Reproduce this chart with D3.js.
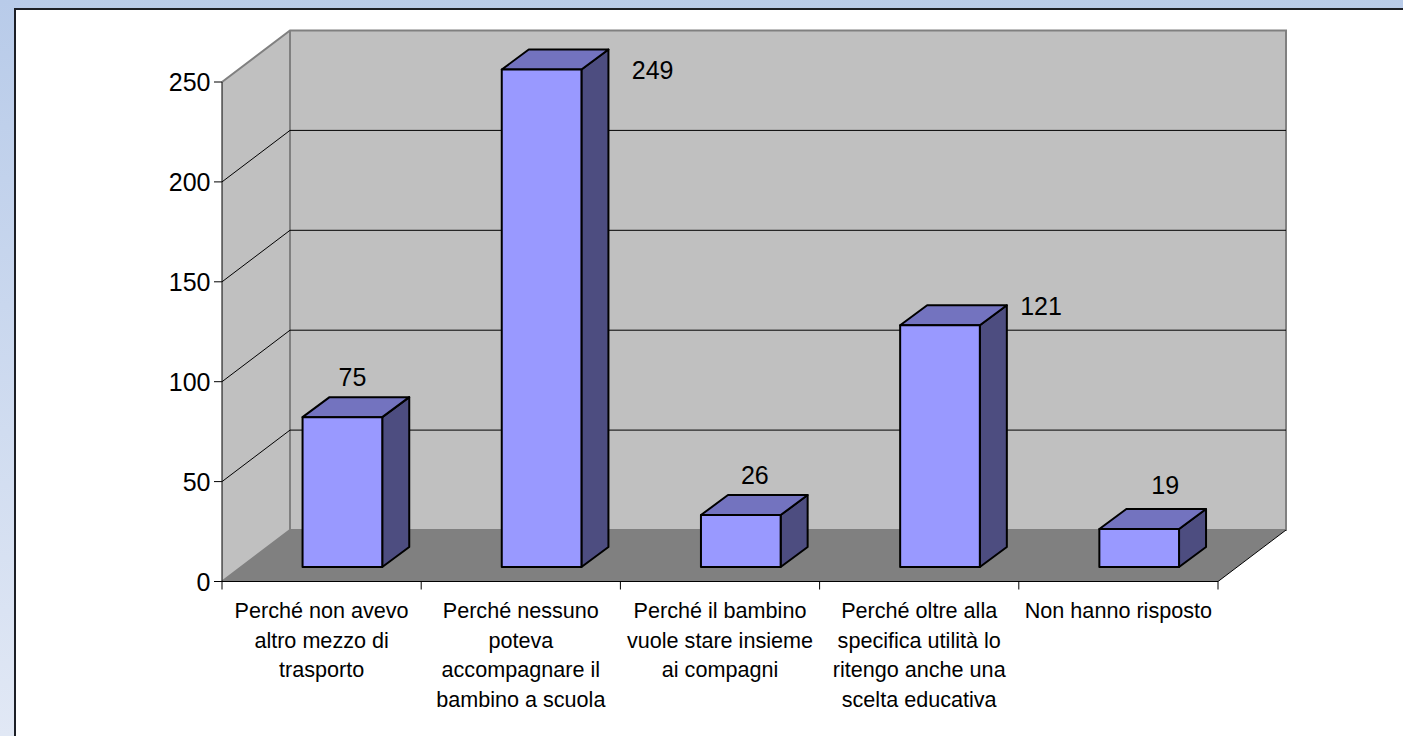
<!DOCTYPE html>
<html>
<head>
<meta charset="utf-8">
<script src="https://cdn.jsdelivr.net/npm/d3@7"></script>
<style>
html,body{margin:0;padding:0;background:#fff;overflow:hidden}
text{font-family:"Liberation Sans",Arial,sans-serif;fill:#000}
</style>
</head>
<body>
<svg id="c" width="1403" height="736"></svg>
<script>
const categories = [
  ["Perché non avevo","altro mezzo di","trasporto"],
  ["Perché nessuno","poteva","accompagnare il","bambino a scuola"],
  ["Perché il bambino","vuole stare insieme","ai compagni"],
  ["Perché oltre alla","specifica utilità lo","ritengo anche una","scelta educativa"],
  ["Non hanno risposto"]
];
const values = [75, 249, 26, 121, 19];
const yTicks = [0, 50, 100, 150, 200, 250];

// layout
const X0 = 222, X1 = 1218, Y0 = 581.5, Y250 = 82;
const DX = 68, DY = -51.5;         // chart depth
const barDX = 27, barDY = -20;     // bar depth
const barShiftX = 19, barShiftY = -14.5;
const labelOffsets = [[10,-40],[111,1],[14,-40],[101,-19],[26,-44]];

const svg = d3.select("#c");
const defs = svg.append("defs");
const g = defs.append("linearGradient").attr("id","bg").attr("x1",0).attr("y1",0).attr("x2",0).attr("y2",1);
g.append("stop").attr("offset",0).attr("stop-color","#b8cbe9");
g.append("stop").attr("offset",1).attr("stop-color","#e1e8f5");

svg.append("rect").attr("width",1403).attr("height",736).attr("fill","url(#bg)");
svg.append("rect").attr("x",15).attr("y",9).attr("width",1388).attr("height",727).attr("fill","#fff");
svg.append("path").attr("d","M15,736V9H1403").attr("fill","none").attr("stroke","#1c1f26").attr("stroke-width",2);

const x = d3.scaleBand().domain(d3.range(categories.length)).range([X0,X1]);
const y = d3.scaleLinear().domain([0,250]).range([Y0,Y250]);
const poly = pts => "M"+pts.map(p=>p.join(",")).join("L")+"Z";
const line = d3.line();

// walls and floor
const yTop = y(250);
svg.append("path").attr("d",poly([[X0,y(0)],[X0,yTop],[X0+DX,yTop+DY],[X0+DX,y(0)+DY]])).attr("fill","#c0c0c0");
svg.append("path").attr("d",poly([[X0+DX,y(0)+DY],[X0+DX,yTop+DY],[X1+DX,yTop+DY],[X1+DX,y(0)+DY]])).attr("fill","#c0c0c0");
svg.append("path").attr("d",poly([[X0,y(0)],[X0+DX,y(0)+DY],[X1+DX,y(0)+DY],[X1,y(0)]])).attr("fill","#808080");

// grey frame
svg.append("path").attr("d",line([[X0,yTop],[X0+DX,yTop+DY],[X1+DX,yTop+DY],[X1+DX,y(0)+DY],[X0+DX,y(0)+DY],[X0,y(0)]]))
  .attr("fill","none").attr("stroke","#808080").attr("stroke-width",2);
svg.append("path").attr("d",line([[X0+DX,yTop+DY],[X0+DX,y(0)+DY]])).attr("fill","none").attr("stroke","#808080").attr("stroke-width",2);

// gridlines
yTicks.filter(t=>t>0 && t<250).forEach(t=>{
  svg.append("path").attr("d",line([[X0,y(t)],[X0+DX,y(t)+DY],[X1+DX,y(t)+DY]]))
    .attr("fill","none").attr("stroke","#000").attr("stroke-width",1);
});

// axes
const axisG = svg.append("g");
axisG.append("path").attr("d",line([[X0,yTop],[X0,y(0)],[X1,y(0)],[X1+DX,y(0)+DY]])).attr("fill","none").attr("stroke","#000").attr("stroke-width",1);
yTicks.forEach(t=>{
  axisG.append("line").attr("x1",X0-8).attr("x2",X0).attr("y1",y(t)).attr("y2",y(t)).attr("stroke","#000");
  axisG.append("text").attr("x",X0-11.5).attr("y",y(t)).attr("dy","0.36em").attr("text-anchor","end").attr("font-size",25).text(t);
});
d3.range(categories.length+1).forEach(i=>{
  const px = X0 + x.step()*i;
  axisG.append("line").attr("x1",px).attr("x2",px).attr("y1",y(0)).attr("y2",y(0)+8).attr("stroke","#000");
});

// category labels
categories.forEach((lines,i)=>{
  const t = svg.append("text").attr("text-anchor","middle").attr("font-size",21.6);
  lines.forEach((l,j)=>t.append("tspan").attr("x",x(i)+x.bandwidth()/2).attr("y",618+j*29.7).text(l));
});

// bars
const barW = x.bandwidth()*0.4;
values.forEach((v,i)=>{
  const cx = x(i)+x.bandwidth()/2 + barShiftX + 1.8;
  const l = cx-barW/2, r = cx+barW/2, b = y(0)+barShiftY, t = y(v)+barShiftY;
  const bar = svg.append("g").attr("stroke","#000").attr("stroke-width",2).attr("stroke-linejoin","round");
  bar.append("path").attr("d",poly([[r,t],[r+barDX,t+barDY],[r+barDX,b+barDY],[r,b]])).attr("fill","#4d4d80");
  bar.append("path").attr("d",poly([[l,t],[l+barDX,t+barDY],[r+barDX,t+barDY],[r,t]])).attr("fill","#7373bf");
  bar.append("rect").attr("x",l).attr("y",t).attr("width",barW).attr("height",b-t).attr("fill","#9999ff");
  svg.append("text").attr("x",cx+labelOffsets[i][0]).attr("y",t+labelOffsets[i][1]).attr("dy","0.36em")
    .attr("text-anchor","middle").attr("font-size",25).text(v);
});
</script>
</body>
</html>
